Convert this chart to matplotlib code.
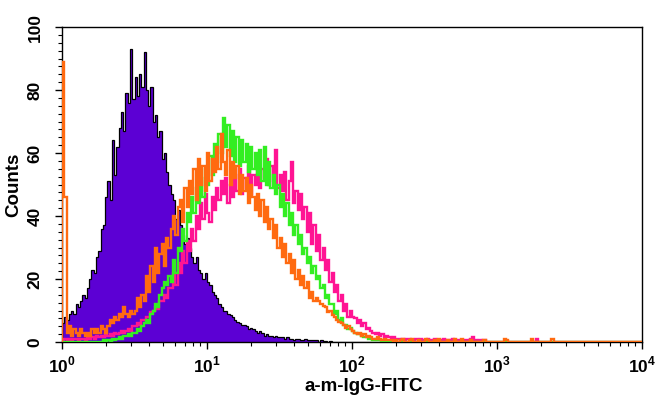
import numpy as np
import matplotlib
matplotlib.use("Agg")
import matplotlib.pyplot as plt
from matplotlib.ticker import MultipleLocator, FixedLocator, LogLocator, NullFormatter

plt.rcParams['font.family'] = ['Liberation Sans', 'DejaVu Sans']
plt.rcParams['mathtext.fontset'] = 'custom'
plt.rcParams['mathtext.rm'] = 'Liberation Sans:bold'
plt.rcParams['mathtext.bf'] = 'Liberation Sans:bold'

# histogram channels: 256 bins spanning 10^0 .. 10^4 (1/64 decade each)
n_bins = 256
decades = 4

isotype_purple = [6, 8, 7, 9, 10, 9, 12, 11, 13, 15, 14, 17, 20, 23, 22, 27,
                  29, 36, 37, 46, 51, 45, 64, 53, 62, 68, 73, 67, 79, 76, 93, 77,
                  84, 78, 85, 81, 92, 80, 75, 81, 70, 72, 65, 67, 58, 60, 54, 50,
                  47, 45, 39, 42, 37, 34, 31, 33, 30, 27, 25, 27, 23, 22, 20, 22,
                  19, 18, 16, 15, 14, 12, 11, 10, 10, 9, 8.5, 8, 7, 6.5, 6, 5.5,
                  5.5, 5, 4, 4.5, 4, 3.5, 3, 3.5, 3, 2, 2.5, 2, 2, 1.5, 2, 1.5,
                  1.5, 1.5, 1, 1.5, 1, 1, 0.5, 1, 1, 0.5, 0.5, 1, 0.5, 0.5, 0.5, 0.5,
                  0.5, 0, 0.5, 0.3, 0.3, 0, 0.3, 0]

sample_orange = [89, 46, 3, 5, 2, 4, 3, 2, 4, 3, 2, 3, 2, 4, 3, 4,
                 3, 5, 4, 3, 5, 7, 6, 8, 7, 9, 8, 11, 9, 8, 10, 9,
                 10, 14, 11, 15, 13, 21, 16, 24, 19, 30, 22, 28, 31, 24, 33, 30,
                 36, 40, 34, 43, 45, 38, 49, 43, 51, 47, 55, 45, 58, 50, 56, 48,
                 60, 51, 58, 54, 62, 55, 66, 57, 53, 61, 50, 57, 52, 56, 47, 53,
                 48, 52, 44, 50, 46, 42, 47, 40, 45, 38, 43, 36, 39, 33, 37, 30,
                 33, 27, 31, 25, 28, 22, 26, 20, 23, 18, 21, 17, 19, 14, 16, 13,
                 14, 13, 12, 11.5, 11, 9.5, 10, 8.5, 8, 7, 6.5, 6, 5.5, 4.5, 5, 4,
                 3.5, 3, 2.5, 3, 2, 2.5, 1.5, 2, 1.5, 1, 1, 1.5, 1, 0.5, 0.8, 0.5,
                 0.5, 0.5, 0, 0.5, 0, 0.5, 0.8, 0, 0, 0.5, 0.8, 0, 0, 0.5, 0, 0,
                 0.8, 0.5, 0, 0, 0.5, 0, 0.8, 0, 0, 0, 0.5, 0, 0, 0.8, 0, 0,
                 0.8, 0, 0, 0, 0.5, 0, 0, 0, 0, 0, 0.5, 0, 0, 0, 0, 0,
                 0, 0, 0, 1, 0.5, 0, 0, 0, 0, 0, 0, 0, 0, 0, 0, 1,
                 0, 0, 0, 0, 0, 0, 0, 0, 1]

sample_green = [0, 0, 0, 0, 0, 0, 0, 0, 0, 0, 0, 0, 0, 0, 0, 0,
                0, 0, 0.5, 0, 0.5, 0, 1, 0.5, 1, 1.5, 1, 2, 2, 2.5, 2, 3,
                3, 4, 3.5, 5, 6, 7, 6, 9, 10, 12, 11, 15, 17, 19, 18, 21,
                19, 26, 22, 30, 29, 36, 32, 41, 38, 46, 41, 49, 44, 52, 46, 55,
                50, 59, 53, 63, 57, 66, 60, 71, 62, 69, 59, 67, 57, 65, 56, 64,
                57, 63, 54, 62, 55, 60, 53, 61, 51, 62, 50, 57, 49, 53, 47, 50,
                43, 47, 40, 44, 37, 41, 34, 37, 31, 34, 28, 30, 25, 27, 22, 24,
                20, 21, 17, 18, 14, 15, 12, 12, 9, 10, 7, 7.5, 5.5, 5.5, 4, 4.5,
                3.5, 3, 2.5, 2.5, 2, 1.5, 1.5, 1, 1, 0.5, 1, 0.5, 0.5, 0, 0.5, 0]

sample_pink = [0.5, 1, 0.5, 1, 0.5, 1, 1, 0.5, 1, 1, 0.5, 1.5, 1, 1.5, 1, 2,
               1.5, 2, 1.5, 2.5, 2, 2.5, 2, 3, 2.5, 3, 3.5, 3, 3.5, 4, 3.5, 5,
               5, 6, 5.5, 7, 7, 8, 8, 9.5, 10, 11, 10.5, 13, 13, 15, 14, 17,
               17, 22, 18, 25, 22, 29, 25, 32, 29, 36, 32, 40, 36, 44, 39, 47,
               41, 38, 46, 42, 49, 45, 51, 47, 52, 44, 50, 46, 53, 48, 55, 47,
               52, 49, 56, 47, 53, 50, 57, 49, 55, 52, 58, 50, 56, 51, 61, 49,
               53, 48, 54, 45, 51, 57, 44, 48, 42, 47, 39, 43, 35, 41, 31, 37,
               29, 34, 26, 30, 23, 26, 19, 22, 16, 18, 13, 15, 10, 12, 8, 10,
               8, 7.5, 6, 7, 5, 6, 4, 4.5, 3.5, 3, 2.5, 3, 2, 2.5, 1.5, 2,
               1.5, 1, 1.5, 1, 1, 0.5, 1, 0.5, 0.8, 1, 0.5, 0.5, 1, 0.5, 0.8, 0.5,
               0.5, 1, 0.5, 0.5, 0.8, 0.5, 0.5, 0.5, 1, 0.5, 0.5, 0.5, 0.8, 0.5, 0, 0.5,
               0.5, 0, 0.5, 0.5, 1, 1.5, 0.5, 0, 0.5, 0, 0.5, 0, 0, 0, 0, 0,
               0, 0, 0, 0, 0, 0, 0, 0, 0, 0, 0, 0, 0, 0, 0, 0,
               0, 1]

y_ticks = [0, 20, 40, 60, 80, 100]
x_ticks = [1, 10, 100, 1000, 10000]
x_tick_labels = [r'10$^{0}$', r'10$^{1}$', r'10$^{2}$', r'10$^{3}$', r'10$^{4}$']


def pad(vals):
    v = np.zeros(n_bins)
    v[:len(vals)] = vals
    return v


edges = 10 ** np.linspace(0, decades, n_bins + 1)

fig = plt.figure(figsize=(6.56, 4.0), dpi=100)
ax = fig.add_axes([62 / 656, 1 - 342 / 400, (642 - 62) / 656, (342 - 27) / 400])

purple = pad(isotype_purple)
ax.stairs(purple, edges, fill=True, color='#5c00d4', baseline=0, zorder=1)
ax.stairs(purple, edges, color='black', linewidth=0.9, baseline=0, zorder=2)
ax.stairs(pad(sample_pink), edges, color='#ff1493', linewidth=1.7, zorder=3)
ax.stairs(pad(sample_green), edges, color='#33ee22', linewidth=1.7, zorder=4)
ax.stairs(pad(sample_orange), edges, color='#ff6a10', linewidth=1.7, zorder=5)

ax.set_xscale('log')
ax.set_xlim(1, 1e4)
ax.set_ylim(0, 100)

ax.xaxis.set_major_locator(FixedLocator(x_ticks))
ax.set_xticklabels(x_tick_labels)
ax.xaxis.set_minor_locator(LogLocator(base=10, subs=np.arange(2, 10)))
ax.xaxis.set_minor_formatter(NullFormatter())
ax.yaxis.set_major_locator(FixedLocator(y_ticks))
ax.yaxis.set_minor_locator(MultipleLocator(2.5))

ax.tick_params(axis='both', which='major', direction='out', length=5, width=1,
               labelsize=12.5, top=False, right=False)
ax.tick_params(axis='both', which='minor', direction='out', length=3, width=0.8,
               top=False, right=False)
ax.tick_params(axis='x', which='major', pad=4)
ax.tick_params(axis='y', which='major', pad=9)
for lab in ax.get_yticklabels():
    lab.set_rotation(90)
    lab.set_va('center')
    lab.set_fontweight('bold')
for lab in ax.get_xticklabels():
    lab.set_fontweight('bold')

for s in ax.spines.values():
    s.set_linewidth(1.0)
    s.set_color('black')

ax.set_ylabel('Counts', fontsize=13.5, fontweight='bold', labelpad=4)
ax.set_xlabel('a-m-IgG-FITC', fontsize=13.5, fontweight='bold', labelpad=2)
ax.xaxis.set_label_coords(0.52, -0.115)

fig.savefig('out.png', dpi=100)
